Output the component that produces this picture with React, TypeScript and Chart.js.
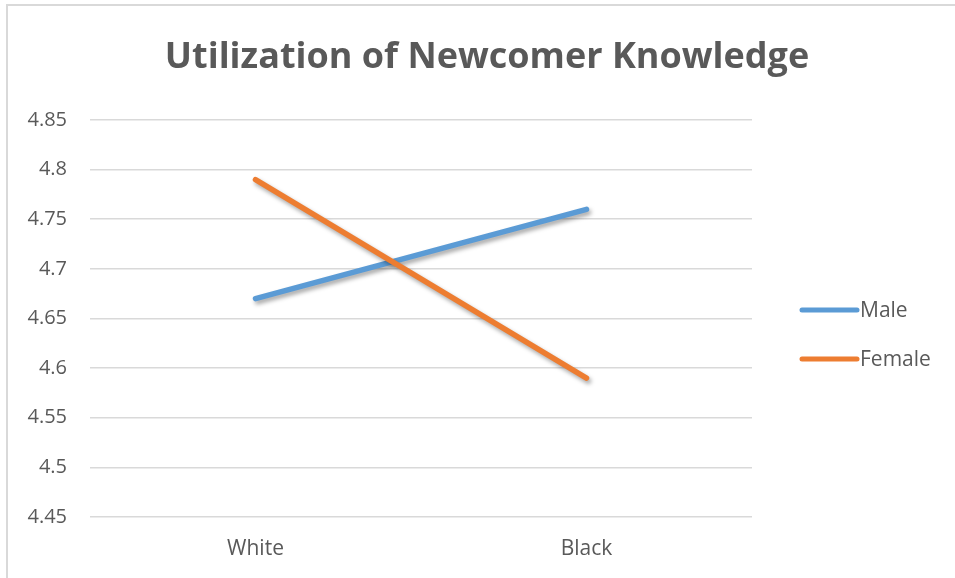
import React, { useEffect, useRef } from "react";
import { Chart, registerables } from "chart.js";

Chart.register(...registerables);

const categories = ["White", "Black"];
const maleValues = [4.67, 4.76];
const femaleValues = [4.79, 4.59];
const seriesNames = ["Male", "Female"];
const yMin = 4.45;
const yMax = 4.85;
const yStep = 0.05;
const titleText = "Utilization of Newcomer Knowledge";

const FONT = "'Open Sans', sans-serif";
const TEXT = "#595959";

const framePlugin = {
  id: "frame",
  beforeDraw(chart: any) {
    const ctx = chart.ctx;
    ctx.save();
    ctx.fillStyle = "#ffffff";
    ctx.fillRect(0, 0, chart.width, chart.height);
    ctx.strokeStyle = "#d9d9d9";
    ctx.lineWidth = 2;
    ctx.strokeRect(7, 5, chart.width + 20, chart.height + 20);
    ctx.fillStyle = TEXT;
    ctx.font = `bold 36px ${FONT}`;
    ctx.textAlign = "center";
    ctx.textBaseline = "middle";
    ctx.fillText(titleText, 487, 58);
    ctx.restore();
  },
};

const shadowPlugin = {
  id: "lineShadow",
  beforeDatasetDraw(chart: any) {
    const ctx = chart.ctx;
    ctx.save();
    ctx.shadowColor = "rgba(0,0,0,0.35)";
    ctx.shadowBlur = 4;
    ctx.shadowOffsetX = 2;
    ctx.shadowOffsetY = 3;
  },
  afterDatasetDraw(chart: any) {
    chart.ctx.restore();
  },
};

const legendPlugin = {
  id: "customLegend",
  afterDraw(chart: any) {
    const ctx = chart.ctx;
    const area = chart.chartArea;
    const x0 = area.right + 50;
    const yStart = area.top + 190;
    const gap = 49;
    ctx.save();
    chart.data.datasets.forEach((ds: any, i: number) => {
      const y = yStart + i * gap;
      ctx.strokeStyle = ds.borderColor;
      ctx.lineWidth = 5;
      ctx.lineCap = "round";
      ctx.beginPath();
      ctx.moveTo(x0, y);
      ctx.lineTo(x0 + 55, y);
      ctx.stroke();
      ctx.fillStyle = TEXT;
      ctx.font = `21px ${FONT}`;
      ctx.textBaseline = "middle";
      ctx.textAlign = "left";
      ctx.fillText(ds.label, x0 + 58, y + 1);
    });
    ctx.restore();
  },
};

export default function App() {
  const ref = useRef<HTMLCanvasElement | null>(null);

  useEffect(() => {
    if (!ref.current) return;
    const chart = new Chart(ref.current, {
      type: "line",
      data: {
        labels: categories,
        datasets: [
          {
            label: seriesNames[0],
            data: maleValues,
            borderColor: "#5B9BD5",
            backgroundColor: "#5B9BD5",
            borderWidth: 5.5,
            borderCapStyle: "round",
            pointRadius: 0,
            order: 1,
          },
          {
            label: seriesNames[1],
            data: femaleValues,
            borderColor: "#ED7D31",
            backgroundColor: "#ED7D31",
            borderWidth: 5.5,
            borderCapStyle: "round",
            pointRadius: 0,
            order: 0,
          },
        ],
      },
      options: {
        animation: false,
        responsive: false,
        devicePixelRatio: 1,
        layout: { padding: { left: 0, right: 203, top: 120, bottom: 0 } },
        plugins: {
          legend: { display: false },
          tooltip: { enabled: false },
          title: { display: false },
        },
        scales: {
          x: {
            offset: true,
            grid: { display: false, drawTicks: false },
            border: { display: false },
            ticks: {
              color: TEXT,
              font: { family: FONT, size: 21 },
              padding: 19,
            },
            afterFit(axis: any) {
              axis.height = 61;
            },
          },
          y: {
            min: yMin,
            max: yMax,
            grid: { color: "#d9d9d9", lineWidth: 1.5, drawTicks: false },
            border: { display: false },
            ticks: {
              stepSize: yStep,
              color: TEXT,
              font: { family: FONT, size: 20 },
              padding: 23,
              callback: (v: any) => String(Math.round(Number(v) * 100) / 100),
            },
            afterFit(axis: any) {
              axis.width = 90;
            },
          },
        },
      },
      plugins: [framePlugin, shadowPlugin, legendPlugin],
    } as any);
    return () => chart.destroy();
  }, []);

  return (
    <div style={{ position: "absolute", left: 0, top: 0, width: 955, height: 578 }}>
      <canvas ref={ref} width={955} height={578} style={{ width: 955, height: 578 }} />
    </div>
  );
}
